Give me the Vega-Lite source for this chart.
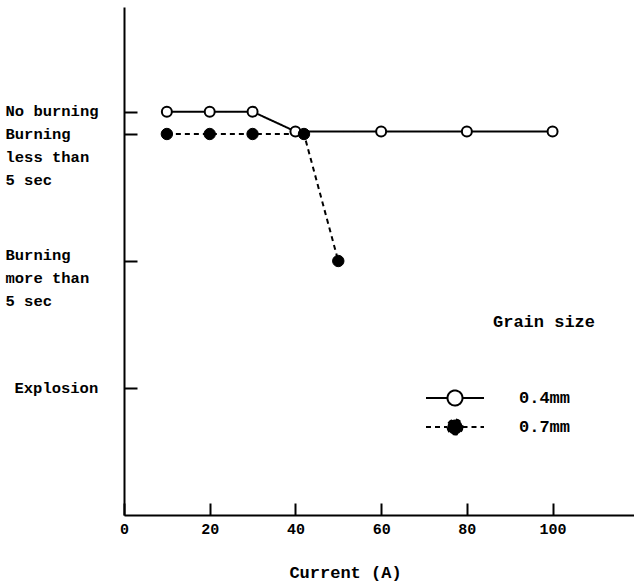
{
  "$schema": "https://vega.github.io/schema/vega-lite/v6.json",
  "autosize": {"type": "none"},
  "padding": {"left": 124, "top": 7, "right": 0, "bottom": 67},
  "width": 510,
  "height": 508,
  "background": "white",
  "config": {
    "view": {"stroke": null},
    "font": "Liberation Mono"
  },
  "data": {
    "values": [
      {"grain": "0.4mm", "current": 10, "level": 3.176},
      {"grain": "0.4mm", "current": 20, "level": 3.176},
      {"grain": "0.4mm", "current": 30, "level": 3.176},
      {"grain": "0.4mm", "current": 40, "level": 3.02},
      {"grain": "0.4mm", "current": 60, "level": 3.02},
      {"grain": "0.4mm", "current": 80, "level": 3.02},
      {"grain": "0.4mm", "current": 100, "level": 3.02},
      {"grain": "0.7mm", "current": 10, "level": 3.0},
      {"grain": "0.7mm", "current": 20, "level": 3.0},
      {"grain": "0.7mm", "current": 30, "level": 3.0},
      {"grain": "0.7mm", "current": 42, "level": 3.0},
      {"grain": "0.7mm", "current": 50, "level": 2.0}
    ]
  },
  "encoding": {
    "x": {
      "field": "current", "type": "quantitative",
      "scale": {"domain": [0, 119], "nice": false, "zero": false},
      "axis": {
        "title": "Current (A)",
        "values": [0, 20, 40, 60, 80, 100],
        "grid": false,
        "domainColor": "black", "domainWidth": 2,
        "tickColor": "black", "tickWidth": 2, "tickSize": -12,
        "labelPadding": 18,
        "labelFont": "Liberation Mono", "labelFontSize": 15, "labelFontWeight": "bold", "labelColor": "black",
        "labelBaseline": "top",
        "labelFlush": false,
        "titleFont": "Liberation Mono", "titleFontSize": 17, "titleFontWeight": "bold", "titleColor": "black",
        "titleX": 221, "titleY": 57, "titleAlign": "center", "titleBaseline": "middle"
      }
    },
    "y": {
      "field": "level", "type": "quantitative",
      "scale": {"domain": [0, 4], "nice": false, "zero": false},
      "axis": {
        "title": null,
        "values": [1, 2, 3, 3.176],
        "grid": false,
        "domainColor": "black", "domainWidth": 2,
        "tickColor": "black", "tickWidth": 2, "tickSize": -13,
        "labelAlign": "left",
        "labelBaseline": "top",
        "labelPadding": {"condition": {"test": "datum.value < 1.5", "value": 123}, "value": 132},
        "labelOffset": {"condition": {"test": "datum.value > 1.5 && datum.value < 2.5", "value": -14}, "value": -8},
        "labelLineHeight": 23,
        "labelFont": "Liberation Mono", "labelFontSize": 15.5, "labelFontWeight": "bold", "labelColor": "black",
        "labelFlush": false,
        "labelOverlap": false,
        "labelExpr": "datum.value < 1.5 ? 'Explosion' : datum.value < 2.5 ? ['Burning', 'more than', '5 sec'] : datum.value < 3.1 ? ['Burning', 'less than', '5 sec'] : 'No burning'"
      }
    }
  },
  "layer": [
    {
      "mark": {"type": "line", "color": "black", "strokeWidth": 2},
      "encoding": {
        "strokeDash": {
          "field": "grain", "type": "nominal",
          "scale": {"domain": ["0.4mm", "0.7mm"], "range": [[1, 0], [5, 4]]},
          "legend": {
            "title": "Grain size",
            "orient": "none",
            "legendX": 320,
            "legendY": 307,
            "titleFont": "Liberation Mono", "titleFontSize": 17, "titleFontWeight": "bold", "titleColor": "black",
            "titlePadding": 56,
            "titleAnchor": "start",
            "labelFont": "Liberation Mono", "labelFontSize": 17, "labelFontWeight": "bold", "labelColor": "black",
            "labelOffset": 53,
            "symbolType": "M-2.9,0L-0.75,0M0.75,0L2.9,0M0.75,0A0.75,0.75,0,1,1,-0.75,0A0.75,0.75,0,1,1,0.75,0",
            "symbolSize": 400,
            "symbolStrokeColor": "black",
            "symbolStrokeWidth": 2,
            "rowPadding": 5,
            "encode": {
              "title": {"update": {"dx": {"value": 49}}},
              "symbols": {"update": {
                "fill": {"signal": "datum.value === '0.4mm' ? 'white' : 'black'"},
                "fillOpacity": {"value": 1},
                "stroke": {"value": "black"},
                "strokeWidth": {"value": 2},
                "strokeOpacity": {"value": 1},
                "opacity": {"value": 1}
              }}
            }
          }
        }
      }
    },
    {
      "transform": [{"filter": "datum.grain === '0.4mm'"}],
      "mark": {"type": "point", "shape": "circle", "filled": true, "fill": "white", "stroke": "black", "strokeWidth": 2, "size": 100, "opacity": 1}
    },
    {
      "transform": [{"filter": "datum.grain === '0.7mm'"}],
      "mark": {"type": "point", "shape": "circle", "filled": true, "fill": "black", "stroke": "black", "strokeWidth": 1, "size": 130, "opacity": 1}
    }
  ]
}
